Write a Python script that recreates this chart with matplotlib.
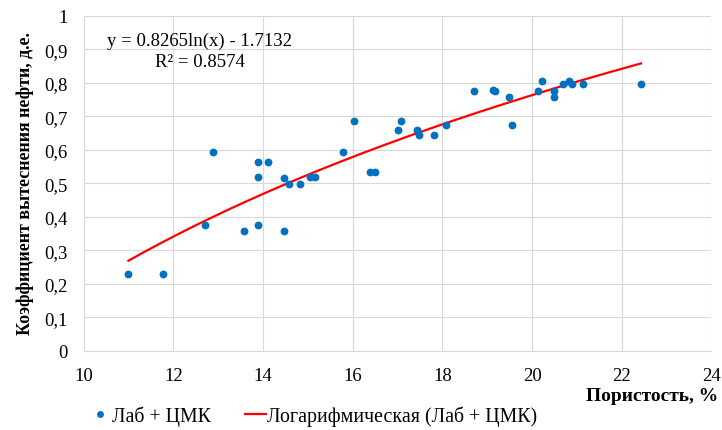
import numpy as np
import matplotlib.pyplot as plt

plt.rcParams['font.family'] = ['Liberation Serif', 'DejaVu Serif']

# пористость, % и коэффициент вытеснения (лаборатория + ЦМК)
porosity = [11.0, 11.76, 12.70, 12.88, 13.58, 13.90, 13.90, 13.90, 14.11, 14.48,
            14.48, 14.59, 14.82, 15.05, 15.17, 15.78, 16.02, 16.39, 16.49, 17.00,
            17.07, 17.43, 17.49, 17.81, 18.08, 18.71, 19.14, 19.18, 19.49, 19.55,
            20.14, 20.23, 20.49, 20.49, 20.68, 20.82, 20.89, 21.13, 22.43]
displacement = [0.229, 0.229, 0.374, 0.592, 0.357, 0.375, 0.519, 0.562, 0.562, 0.517,
                0.357, 0.498, 0.498, 0.518, 0.519, 0.592, 0.685, 0.534, 0.534, 0.659,
                0.685, 0.659, 0.644, 0.644, 0.674, 0.775, 0.777, 0.775, 0.757, 0.674,
                0.774, 0.804, 0.774, 0.757, 0.795, 0.804, 0.795, 0.795, 0.795]

# логарифмический тренд
coef_a = 0.8265
coef_b = -1.7132
r2 = 0.8574

x_trend = np.linspace(min(porosity), max(porosity), 200)
y_trend = coef_a * np.log(x_trend) + coef_b

fig = plt.figure(figsize=(7.22, 4.31), dpi=100)
ax = fig.add_axes([83.6 / 722, 1 - 351.7 / 431, (711.4 - 83.6) / 722, (351.7 - 16.7) / 431])

ax.plot(porosity, displacement, 'o', color='#0070C0', markersize=4.6,
        label='Лаб + ЦМК', zorder=3)
ax.plot(x_trend, y_trend, color='#FF0000', linewidth=1.6,
        label='Логарифмическая (Лаб + ЦМК)', zorder=2)

ax.set_xlim(10, 24)
ax.set_ylim(0, 1)
ax.set_xticks(np.arange(10, 25, 2))
ax.set_yticks(np.arange(0, 1.01, 0.1))
ax.set_yticklabels(['0'] + [f'{v:.1f}'.replace('.', ',') for v in np.arange(0.1, 0.95, 0.1)] + ['1'])
ax.tick_params(length=0, labelsize=13.5, pad=11.5)
ax.grid(True, color='#d9d9d9', linewidth=0.8)
ax.set_axisbelow(True)
for side in ['top', 'right']:
    ax.spines[side].set_visible(False)
for side in ['left', 'bottom']:
    ax.spines[side].set_color('#d9d9d9')

ax.text(0.1846, 0.925, f'y = {coef_a}ln(x) - {abs(coef_b)}', transform=ax.transAxes,
        ha='center', va='center', fontsize=13.5)
ax.text(0.1846, 0.863, f'R² = {r2}', transform=ax.transAxes,
        ha='center', va='center', fontsize=13.5)

fig.text(25 / 722, 1 - 183.5 / 431, 'Коэффициент вытеснения нефти, д.е.', rotation=90,
         ha='center', va='center', fontsize=13, fontweight='bold')
fig.text(718 / 722, 1 - 397 / 431, 'Пористость, %', ha='right', va='center',
         fontsize=14, fontweight='bold')

fig.legend(loc='center left', bbox_to_anchor=(90 / 722, 1 - 417 / 431), ncol=2,
           frameon=False, fontsize=14.3, handlelength=1.05, handletextpad=0.05,
           columnspacing=1.75, markerscale=0.85, borderpad=0, borderaxespad=0)

fig.savefig('out.png', dpi=100)
